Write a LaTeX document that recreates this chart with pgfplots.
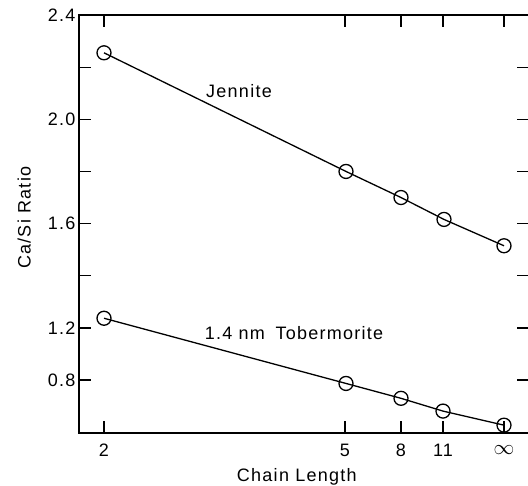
\documentclass[border=0pt]{standalone}
\usepackage{fontspec}
\setmainfont{Liberation Sans}[LetterSpace=7]
\usepackage{pgfplots}
\pgfplotsset{compat=1.18}
\begin{document}
\begin{tikzpicture}[font=\fontsize{18}{21}\selectfont]
\begin{axis}[
  scale only axis, width=450pt, height=418pt,
  xmin=79, xmax=529, ymin=0.797, ymax=2.4,
  xtick={104,345,401,443,504},
  xticklabels={2,5,8,11,{\fontsize{22}{22}\selectfont$\infty$}},
  ytick={1.0,1.2,1.4,1.6,1.8,2.0,2.2,2.4},
  yticklabels={0.8,1.2,,1.6,,2.0,,2.4},
  xticklabel style={anchor=center, yshift=-17pt},
  tick align=inside, major tick length=12pt,
  axis line style={line width=1.2pt},
  every tick/.style={black, line width=1.2pt},
  xlabel={Chain Length}, ylabel={Ca/Si Ratio},
  every axis x label/.style={at={(axis description cs:0.484,-0.104)},anchor=center},
  every axis y label/.style={at={(axis description cs:-0.122,0.515)},anchor=center,rotate=90},
  clip=false,
]
\addplot[black, line width=1.3pt, mark=o, mark size=7pt, mark options={fill=white, line width=1.3pt}]
  coordinates {(104,2.255) (346,1.80) (401,1.70) (444,1.616) (504,1.515)};
\addplot[black, line width=1.3pt, mark=o, mark size=7pt, mark options={fill=white, line width=1.3pt}]
  coordinates {(104,1.237) (346,0.987) (401,0.93) (443,0.881) (504,0.827)};
\node at (axis cs:239,2.108) {Jennite};
\node at (axis cs:294,1.18) {1.4 nm\hspace{0.25em} Tobermorite};
\end{axis}
\pgfresetboundingbox
\path[use as bounding box] ([xshift=-79pt,yshift=-53pt]current axis.south west) rectangle ([xshift=-1pt,yshift=15pt]current axis.north east);
\end{tikzpicture}
\end{document}
